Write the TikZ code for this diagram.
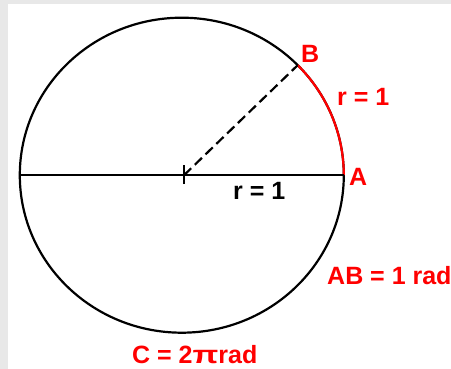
\documentclass[tikz,border=0pt]{standalone}
\usepackage{fontspec}
\setmainfont{Liberation Sans}
\begin{document}
\begin{tikzpicture}[x=1pt,y=-1pt,
  lbl/.style={font=\fontsize{25}{25}\selectfont\bfseries, inner sep=0pt, anchor=base west},
  redlbl/.style={lbl, text=red},
  thick line/.style={line width=2.2pt}]
\useasboundingbox (0,0) rectangle (451,369);
\fill[gray!18] (0,0) rectangle (451,369);
\fill[white] (8,4) rectangle (451,369);
% geometry
\coordinate (O) at (181.8,175.2);
\coordinate (T) at (184,175.2);
\coordinate (A) at (343.8,175.2);
\coordinate (L) at (19.8,175.2);
\coordinate (B) at (297.7,65.2);
% circle
\draw[thick line] (O) ellipse [x radius=162, y radius=157.5];
\draw[thick line, red] (A) arc [start angle=0, end angle=-44.3, x radius=162, y radius=157.5];
% diameter and tick
\draw[thick line] (L) -- (A);
\draw[thick line] ([yshift=-9pt]T) -- ([yshift=10pt]T);
% dashed radius
\draw[thick line, dash pattern=on 10pt off 5pt] (T) -- (B);
% labels
\node[redlbl] (lB) at (301,63) {B};
\node[redlbl] (lr1) at (337,106) {r = 1};
\node[redlbl] (lA) at (349,186) {A};
\node[lbl] (lr2) at (233,200) {r = 1};
\node[redlbl] (lAB) at (327,285) {AB = 1 rad};
\node[redlbl] (lC) at (132,363) {C = 2\scalebox{1.35}[1]{π}rad};
\end{tikzpicture}
\end{document}
